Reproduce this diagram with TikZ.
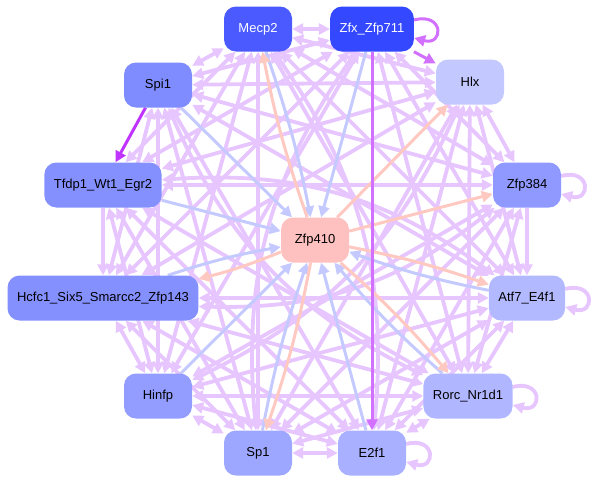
\documentclass[tikz,border=0pt]{standalone}
\usepackage{fontspec}
\setmainfont{Liberation Sans}
\usetikzlibrary{arrows.meta,calc}
\pgfdeclarelayer{bg}
\pgfsetlayers{bg,main}
\definecolor{lp}{RGB}{231,197,255}
\definecolor{bl}{RGB}{196,202,255}
\definecolor{sa}{RGB}{255,200,192}
\definecolor{mp}{RGB}{210,112,255}
\definecolor{dp}{RGB}{192,52,255}
\definecolor{cM}{RGB}{74,90,255}
\definecolor{cZ}{RGB}{52,72,255}
\definecolor{cH}{RGB}{195,200,255}
\definecolor{cSp}{RGB}{127,140,255}
\definecolor{cT}{RGB}{133,144,255}
\definecolor{cHc}{RGB}{133,144,255}
\definecolor{cZb}{RGB}{143,153,255}
\definecolor{cA}{RGB}{179,185,255}
\definecolor{cHi}{RGB}{147,157,255}
\definecolor{cR}{RGB}{176,182,255}
\definecolor{cS}{RGB}{158,167,255}
\definecolor{cE}{RGB}{169,176,255}
\definecolor{cC}{RGB}{255,192,192}
\begin{document}
\begin{tikzpicture}[x=1pt,y=-1pt,
  tf/.style={rounded corners=12pt, minimum width=68pt, minimum height=45pt,
    inner xsep=9.5pt, font=\fontsize{13}{15}\selectfont, text=black},
  lpe/.style={draw=lp, line width=3.8pt, {Triangle[length=11pt,width=11pt]}-{Triangle[length=11pt,width=11pt]}},
  lps/.style={draw=lp, line width=3.8pt, -{Triangle[length=11pt,width=11pt]}},
  ble/.style={draw=bl, line width=3pt, -{Triangle[length=11pt,width=11pt]}},
  sae/.style={draw=sa, line width=3pt, -{Triangle[length=11pt,width=11pt]}},
  mpe/.style={draw=mp, line width=3pt, -{Triangle[length=11pt,width=11pt]}},
  dpe/.style={draw=dp, line width=3pt, -{Triangle[length=11pt,width=11pt]}}
]
\useasboundingbox (0,0) rectangle (597,483);

\node[tf, fill=cM, text=white] (M) at (258,29) {Mecp2};
\node[tf, fill=cZ, text=white] (Z) at (372,29) {Zfx\_Zfp711};
\node[tf, fill=cH] (H) at (470,82) {Hlx};
\node[tf, fill=cSp] (Sp) at (158,85) {Spi1};
\node[tf, fill=cT] (T) at (103,185) {Tfdp1\_Wt1\_Egr2};
\node[tf, fill=cZb] (Zb) at (527,185) {Zfp384};
\node[tf, fill=cC] (C) at (315,240) {Zfp410};
\node[tf, fill=cHc] (Hc) at (103,298) {Hcfc1\_Six5\_Smarcc2\_Zfp143};
\node[tf, fill=cA] (A) at (527,298) {Atf7\_E4f1};
\node[tf, fill=cHi] (Hi) at (158,396) {Hinfp};
\node[tf, fill=cR] (R) at (468,396) {Rorc\_Nr1d1};
\node[tf, fill=cS] (S) at (258,453) {Sp1};
\node[tf, fill=cE] (E) at (372,453) {E2f1};

\begin{pgfonlayer}{bg}
% light purple edges between outer nodes
\foreach \a/\b in {M/Z,M/H,M/Zb,M/A,M/R,M/S,M/Hi,M/Hc,M/T,M/Sp,
  Z/Zb,Z/A,Z/R,Z/Hi,Z/Hc,Z/T,Z/Sp,
  H/Zb,H/A,H/R,H/E,H/S,H/Hc,H/T,H/Sp,
  Zb/R,Zb/E,Zb/S,Zb/Hi,Zb/T,Zb/Sp,
  A/R,A/E,A/S,A/Hi,A/Hc,A/Sp,
  R/E,R/S,R/Hi,R/Hc,R/T,
  E/S,E/Hi,E/Hc,E/T,E/Sp,
  S/Hi,S/Hc,S/T,S/Sp,
  Hi/Hc,Hi/T,Hi/Sp,
  Hc/Sp}
  \draw[lpe] (\a) -- (\b);
% diametric edges, routed round the centre
\draw[lpe] (M) to[bend left=20] (E);
\draw[lpe] (Z) to[bend right=20] (S);
\draw[lpe] (H) to[bend left=20] (Hi);
\draw[lpe] (Zb) to[bend left=20] (Hc);
\draw[lpe] (A) to[bend right=20] (T);
\draw[lpe] (R) to[bend left=20] (Sp);
% single light edges
\draw[lps] (T) -- (Hc);
\draw[lps] (Zb) -- (A);
% self loops
\draw[lps] ([yshift=9pt]Zb.east) .. controls +(30,-8) and +(30,8) .. ([yshift=-9pt]Zb.east);
\draw[lps] ([yshift=9pt]A.east) .. controls +(30,-8) and +(30,8) .. ([yshift=-9pt]A.east);
\draw[lps] ([yshift=9pt]R.east) .. controls +(30,-8) and +(30,8) .. ([yshift=-9pt]R.east);
\draw[lps] ([yshift=9pt]E.east) .. controls +(30,-8) and +(30,8) .. ([yshift=-9pt]E.east);
% edges into Zfp410
\draw[ble] (M) to[bend left=4] (C);
\draw[ble] (Hc) to[bend left=4] (C);
\draw[ble] (A) to[bend left=4] (C);
\draw[ble] (R) to[bend left=4] (C);
\draw[ble] (S) to[bend left=4] (C);
\draw[ble] (Z) -- (C);
\draw[ble] (Sp) -- (C);
\draw[ble] (T) -- (C);
\draw[ble] (Hi) -- (C);
\draw[ble] (E) -- (C);
% edges out of Zfp410
\draw[sae] (C) to[bend left=4] (M);
\draw[sae] (C) to[bend left=4] (Hc);
\draw[sae] (C) to[bend left=4] (A);
\draw[sae] (C) to[bend left=4] (R);
\draw[sae] (C) to[bend left=4] (S);
\draw[sae] (C) -- (H);
\draw[sae] (C) -- (Zb);
% strong edges
\draw[mpe] (Z) -- (E);
\draw[mpe] (Z) -- (H);
\draw[mpe] ([yshift=9pt]Z.east) .. controls +(30,-8) and +(30,8) .. ([yshift=-9pt]Z.east);
\draw[dpe] (Sp) -- (T);
\end{pgfonlayer}
\end{tikzpicture}
\end{document}
